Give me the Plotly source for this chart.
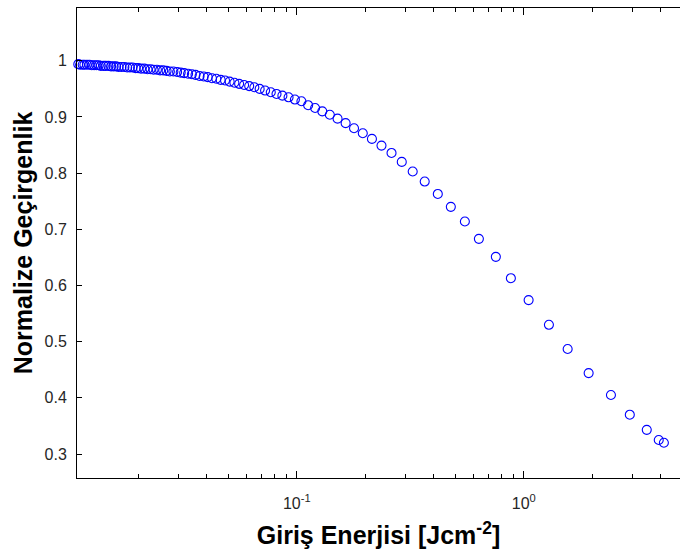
import plotly.graph_objects as go
import math

# Input fluence (J/cm^2) and normalized transmittance
energy = [4.14, 3.93, 3.48, 2.93, 2.42, 1.93, 1.56, 1.29, 1.05, 0.877,
          0.753, 0.634, 0.550, 0.477, 0.418, 0.366, 0.324, 0.290, 0.2614, 0.2361,
          0.2143, 0.1953, 0.1787, 0.1641, 0.1512, 0.1398, 0.1295, 0.1204, 0.1122, 0.1048,
          0.0981, 0.0920, 0.0864, 0.0814, 0.0768, 0.0725, 0.0686, 0.0650, 0.0617, 0.0586,
          0.0557, 0.0531, 0.0506, 0.0483, 0.0462, 0.0442, 0.0423, 0.0405, 0.0389, 0.0373,
          0.0358, 0.0345, 0.0332, 0.0319, 0.0308, 0.0297, 0.0286, 0.0276, 0.0267, 0.0258,
          0.0250, 0.0242, 0.0234, 0.0227, 0.0220, 0.0213, 0.0206, 0.0200, 0.0195, 0.0189,
          0.0184, 0.0179, 0.0174, 0.0169, 0.0164, 0.0160, 0.0156, 0.0152, 0.0148, 0.0144,
          0.0141, 0.0137, 0.0134, 0.0131, 0.0128, 0.0125, 0.0122, 0.0119, 0.0116, 0.0114,
          0.0111, 0.0109]
transmittance = [0.320, 0.325, 0.343, 0.370, 0.405, 0.444, 0.487, 0.530, 0.574, 0.613,
                 0.651, 0.683, 0.714, 0.740, 0.763, 0.785, 0.803, 0.820, 0.836, 0.849,
                 0.861, 0.871, 0.880, 0.889, 0.897, 0.904, 0.910, 0.916, 0.921, 0.928,
                 0.931, 0.935, 0.938, 0.941, 0.944, 0.947, 0.950, 0.953, 0.955, 0.957,
                 0.959, 0.961, 0.963, 0.965, 0.966, 0.968, 0.969, 0.971, 0.972, 0.973,
                 0.975, 0.976, 0.977, 0.978, 0.979, 0.980, 0.981, 0.981, 0.982, 0.983,
                 0.983, 0.984, 0.984, 0.985, 0.985, 0.986, 0.986, 0.987, 0.987, 0.988,
                 0.988, 0.988, 0.989, 0.989, 0.989, 0.990, 0.990, 0.990, 0.991, 0.991,
                 0.991, 0.991, 0.992, 0.992, 0.992, 0.992, 0.993, 0.993, 0.993, 0.993,
                 0.993, 0.994]

x_major = [0.1, 1]
x_major_text = ["10<sup>-1</sup>", "10<sup>0</sup>"]
x_minor = [0.02, 0.03, 0.04, 0.05, 0.06, 0.07, 0.08, 0.09,
           0.2, 0.3, 0.4, 0.5, 0.6, 0.7, 0.8, 0.9, 2, 3, 4]
y_ticks = [0.3, 0.4, 0.5, 0.6, 0.7, 0.8, 0.9, 1.0]
y_tick_text = ["0.3", "0.4", "0.5", "0.6", "0.7", "0.8", "0.9", "1"]

FONT = "Liberation Sans, Arial, sans-serif"
TICKCOL = "#262626"

fig = go.Figure()
fig.add_trace(go.Scatter(
    x=energy, y=transmittance, mode="markers",
    marker=dict(symbol="circle-open", size=9, color="#0000ff",
                line=dict(width=1.1, color="#0000ff")),
    showlegend=False, cliponaxis=False))

yr = [0.2573, 1.094]
fig.update_layout(
    width=680, height=554,
    margin=dict(l=77, r=0, t=8, b=76, pad=0),
    paper_bgcolor="white", plot_bgcolor="white",
    font=dict(family=FONT, color=TICKCOL, size=16),
    xaxis=dict(
        type="log", range=[math.log10(0.01076), 0.688],
        showline=True, linecolor="black", linewidth=1, mirror="allticks",
        ticks="inside", ticklen=7, tickcolor="black", tickwidth=1,
        tickmode="array", tickvals=x_major, ticktext=x_major_text,
        tickfont=dict(size=16, color=TICKCOL), ticklabelstandoff=11,
        minor=dict(tickmode="array", tickvals=x_minor, ticks="inside",
                   ticklen=4, tickcolor="black", tickwidth=1, showgrid=False),
        showgrid=False, zeroline=False,
        title=dict(text="<b>Giriş Enerjisi [Jcm<sup>-2</sup>]</b>",
                   font=dict(size=25, color="black", family=FONT), standoff=15),
    ),
    yaxis=dict(
        range=yr, showline=True, linecolor="black", linewidth=1, mirror=False,
        ticks="inside", ticklen=5, tickcolor="black", tickwidth=1,
        tickmode="array", tickvals=y_ticks, ticktext=y_tick_text,
        tickfont=dict(size=16, color=TICKCOL), ticklabelstandoff=6,
        showgrid=False, zeroline=False,
        title=dict(text="<b>Normalize Geçirgenlik</b>",
                   font=dict(size=25, color="black", family=FONT), standoff=4),
    ),
    yaxis2=dict(
        range=yr, overlaying="y", side="right", anchor="x",
        showline=False, ticks="inside", ticklen=3, tickcolor="black",
        tickmode="array", tickvals=y_ticks, showticklabels=False,
        showgrid=False, zeroline=False,
    ),
)

fig.write_html("out.html")
